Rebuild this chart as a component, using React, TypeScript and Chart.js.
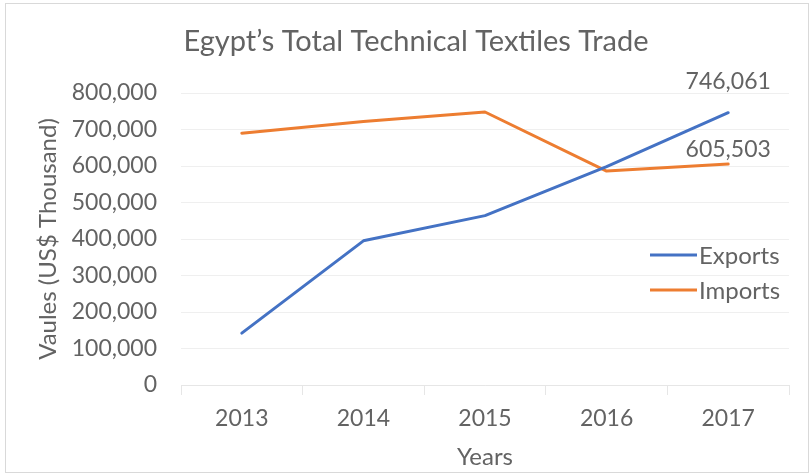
import React, { useEffect, useRef } from "react";
import { Chart, registerables } from "chart.js";

Chart.register(...registerables);

// ---- data ----
const TITLE = "Egypt’s Total Technical Textiles Trade";
const Y_TITLE = "Vaules (US$ Thousand)";
const X_TITLE = "Years";
const years = ["2013", "2014", "2015", "2016", "2017"];
const seriesNames = ["Exports", "Imports"];
const exportsValues = [142000, 395000, 464000, 598000, 746061];
const importsValues = [690000, 722000, 748000, 586000, 605503];
const Y_MIN = 0;
const Y_MAX = 800000;
const Y_STEP = 100000;

// ---- styles ----
const FONT = "Lato, 'Open Sans', sans-serif";
const TEXT = "#636363";
const BLUE = "#4472C4";
const ORANGE = "#ED7D31";
const W = 812;
const H = 475;

const fmt = (v: number) => Number(v).toLocaleString("en-US");

const titlePlugin = {
  id: "customTitle",
  afterDraw(chart: any) {
    const ctx = chart.ctx;
    ctx.save();
    ctx.font = `29px ${FONT}`;
    ctx.fillStyle = TEXT;
    ctx.textAlign = "center";
    ctx.textBaseline = "alphabetic";
    ctx.fillText(TITLE, 416, 51);
    ctx.restore();
  },
};

const legendPlugin = {
  id: "insideLegend",
  afterDraw(chart: any) {
    const ctx = chart.ctx;
    ctx.save();
    chart.data.datasets.forEach((ds: any, i: number) => {
      const y = 255 + i * 35;
      ctx.strokeStyle = ds.borderColor;
      ctx.lineWidth = 3;
      ctx.lineCap = "butt";
      ctx.beginPath();
      ctx.moveTo(650, y);
      ctx.lineTo(697, y);
      ctx.stroke();
      ctx.font = `24px ${FONT}`;
      ctx.fillStyle = TEXT;
      ctx.textAlign = "left";
      ctx.textBaseline = "middle";
      ctx.fillText(ds.label, 699, y + 1);
    });
    ctx.restore();
  },
};

const labelOffsets = [31, 14];
const lastLabelPlugin = {
  id: "lastLabels",
  afterDatasetsDraw(chart: any) {
    const ctx = chart.ctx;
    ctx.save();
    ctx.font = `23px ${FONT}`;
    ctx.fillStyle = TEXT;
    ctx.textAlign = "center";
    ctx.textBaseline = "middle";
    chart.data.datasets.forEach((ds: any, i: number) => {
      const meta = chart.getDatasetMeta(i);
      const idx = meta.data.length - 1;
      const pt = meta.data[idx];
      ctx.fillText(fmt(ds.data[idx]), pt.x, pt.y - labelOffsets[i]);
    });
    ctx.restore();
  },
};

export default function App() {
  const ref = useRef<HTMLCanvasElement | null>(null);

  useEffect(() => {
    document.body.style.margin = "0";
    document.body.style.overflow = "hidden";
    if (!ref.current) return;
    const chart = new Chart(ref.current, {
      type: "line",
      data: {
        labels: years,
        datasets: [
          {
            label: seriesNames[0],
            data: exportsValues,
            borderColor: BLUE,
            backgroundColor: BLUE,
            borderWidth: 3,
            pointRadius: 0,
            tension: 0,
            borderJoinStyle: "round",
            borderCapStyle: "round",
          },
          {
            label: seriesNames[1],
            data: importsValues,
            borderColor: ORANGE,
            backgroundColor: ORANGE,
            borderWidth: 3,
            pointRadius: 0,
            tension: 0,
            borderJoinStyle: "round",
            borderCapStyle: "round",
          },
        ],
      },
      options: {
        animation: false,
        responsive: true,
        maintainAspectRatio: false,
        layout: { padding: { left: 0, top: 93, right: 23, bottom: 3.6 } },
        plugins: {
          legend: { display: false },
          title: { display: false },
          tooltip: { enabled: false },
        },
        scales: {
          x: {
            type: "category",
            offset: true,
            grid: {
              offset: true,
              drawOnChartArea: false,
              drawTicks: true,
              tickLength: 10,
              color: "#e6e6e6",
            },
            border: { display: true, color: "#e6e6e6" },
            ticks: { padding: 10, color: TEXT, font: { family: FONT, size: 23 } },
            title: {
              display: true,
              text: X_TITLE,
              color: TEXT,
              font: { family: FONT, size: 24 },
              padding: { top: 0, bottom: 0 },
            },
            afterFit: (s: any) => {
              s.height = 86.4;
            },
          },
          y: {
            min: Y_MIN,
            max: Y_MAX,
            ticks: {
              stepSize: Y_STEP,
              padding: 24,
              color: TEXT,
              font: { family: FONT, size: 23 },
              callback: (v: any) => fmt(v),
            },
            grid: { color: "#efefef", drawTicks: false },
            border: { display: false },
            title: {
              display: true,
              text: Y_TITLE,
              color: TEXT,
              font: { family: FONT, size: 24 },
              padding: { top: 33.6, bottom: 0 },
            },
            afterFit: (s: any) => {
              s.width = 181;
            },
          },
        },
      } as any,
      plugins: [titlePlugin, legendPlugin, lastLabelPlugin],
    });
    return () => chart.destroy();
  }, []);

  return (
    <div style={{ position: "relative", width: W, height: H, background: "#fff" }}>
      <canvas ref={ref} />
      <div
        style={{
          position: "absolute",
          left: 5,
          top: 3,
          width: 802,
          height: 468,
          border: "1px solid #d9d9d9",
          pointerEvents: "none",
        }}
      />
    </div>
  );
}
